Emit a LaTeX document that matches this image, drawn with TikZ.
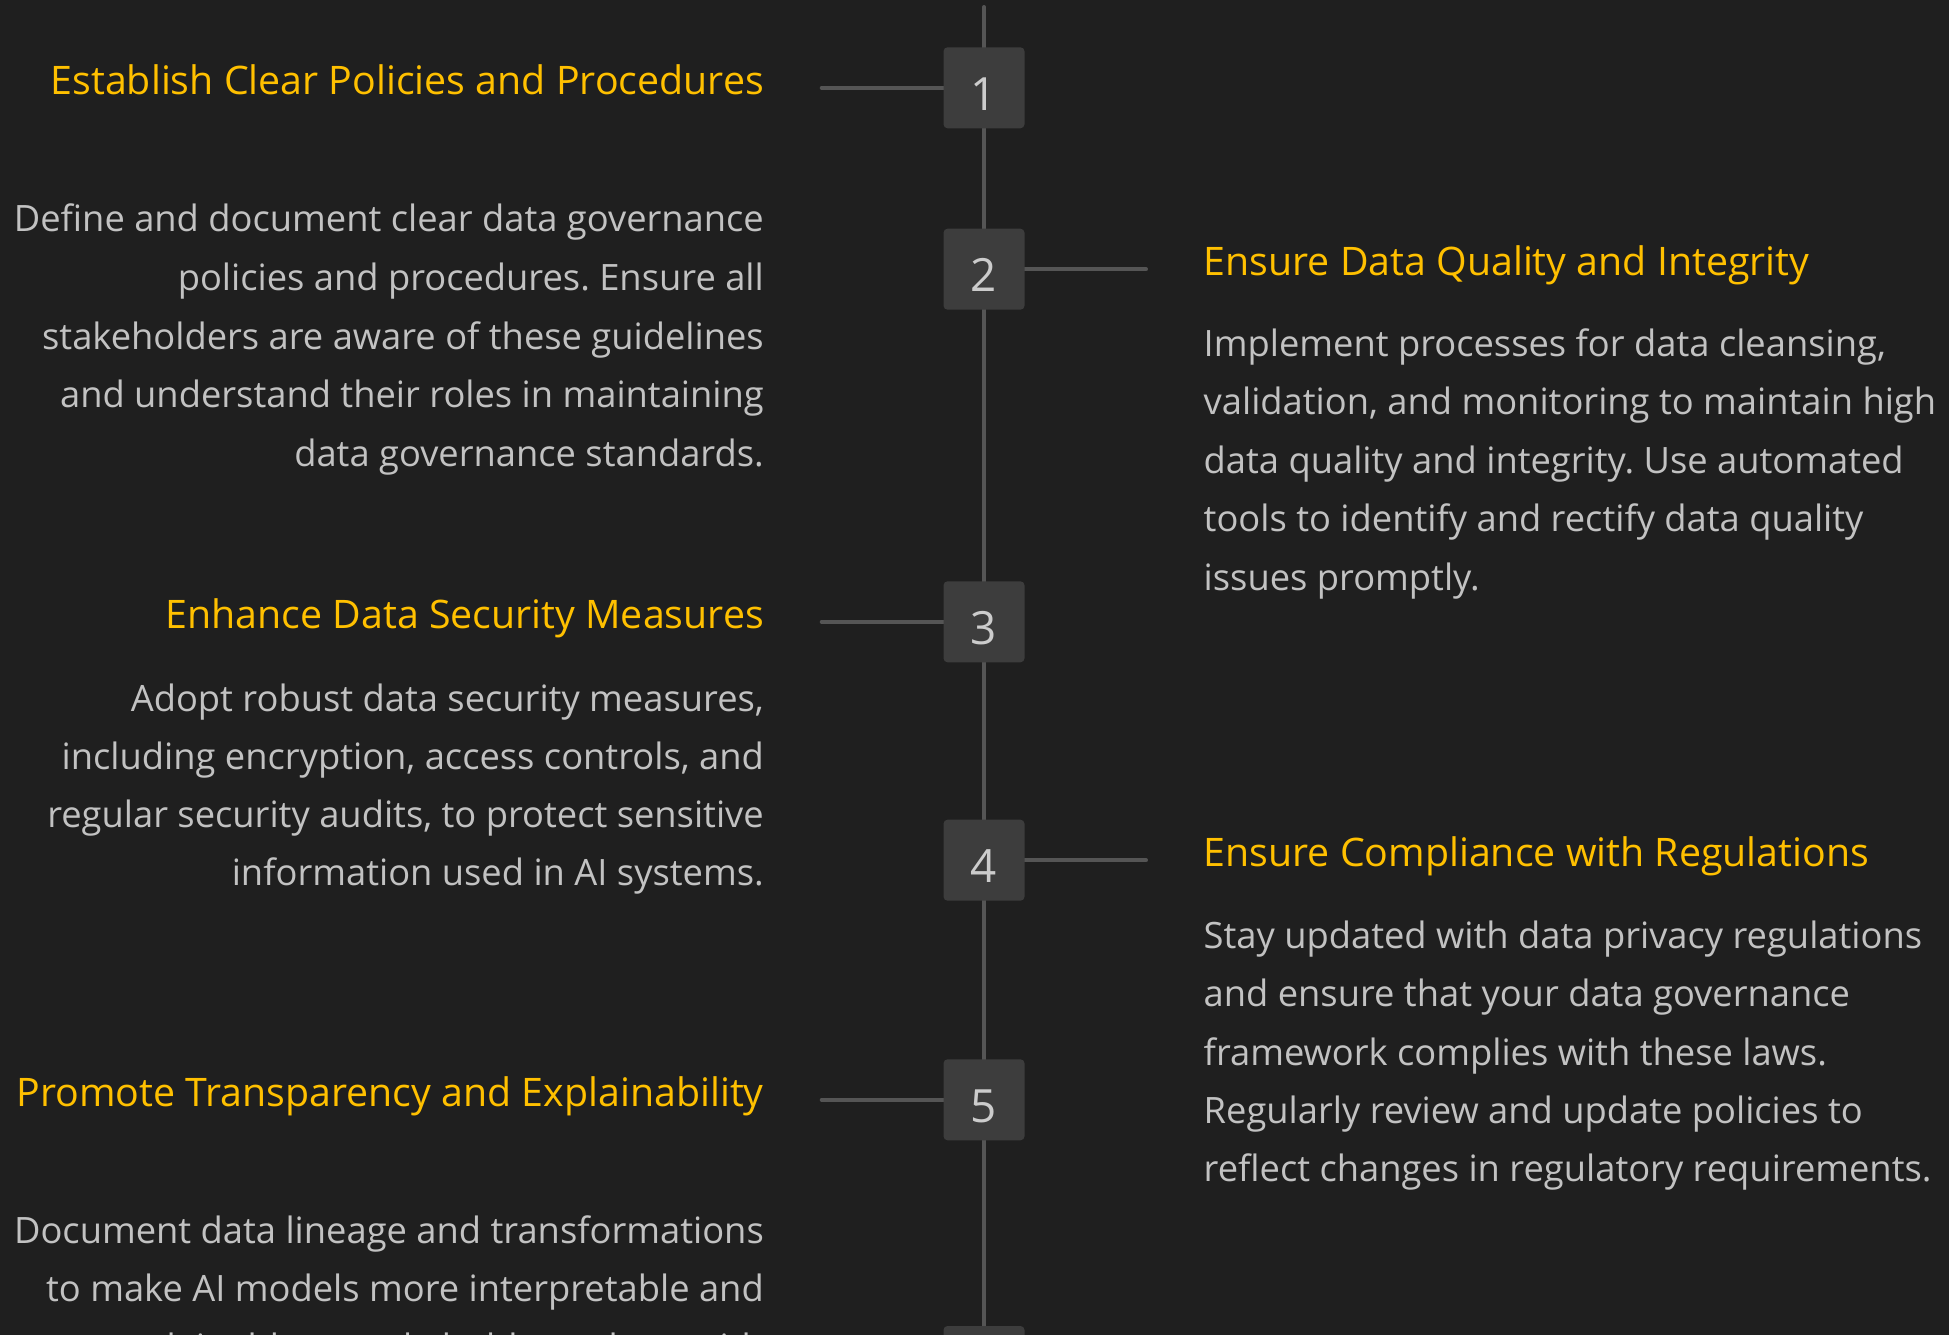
\documentclass[tikz,border=0pt]{standalone}
\usepackage{fontspec}
\setmainfont{Open Sans}
\frenchspacing
\usetikzlibrary{backgrounds}
\definecolor{bg}{HTML}{1F1F1F}
\definecolor{boxfill}{HTML}{3D3D3D}
\definecolor{linec}{HTML}{555555}
\definecolor{titlec}{HTML}{FFC000}
\definecolor{bodyc}{HTML}{C2C2C2}
\definecolor{numc}{HTML}{CCCCCC}
\begin{document}
\begin{tikzpicture}[x=1pt,y=-1pt,
  stepnum/.style={rectangle, rounded corners=4pt, fill=boxfill, minimum width=81pt, minimum height=81pt, inner sep=0pt, text=numc, font=\fontsize{45.8}{46}\selectfont, text height=44.7pt, text depth=0pt},
  conn/.style={draw=linec, line width=4pt, line cap=round},
  ttl/.style={text=titlec, font=\fontsize{39.3}{40}\selectfont\frenchspacing, inner sep=0pt},
  body/.style={text=bodyc, font=\fontsize{36.3}{40}\selectfont\frenchspacing, inner sep=0pt}]
\useasboundingbox (0,0) rectangle (1949,1335);
\clip (0,0) rectangle (1949,1335);
% step boxes
\node[stepnum] (b1) at (984,87.8) {1};
\node[stepnum] (b2) at (984,269.2) {2};
\node[stepnum] (b3) at (984,621.8) {3};
\node[stepnum] (b4) at (984,860.2) {4};
\node[stepnum] (b5) at (984,1099.8) {5};
\node[stepnum] (b6) at (984,1366.5) {};
\coordinate (top) at (984,7);
\coordinate (l1) at (821.7,87.8);
\coordinate (r2) at (1146,269.2);
\coordinate (l3) at (821.7,621.8);
\coordinate (r4) at (1146,860.2);
\coordinate (l5) at (821.7,1099.8);
\begin{scope}[on background layer]
\fill[bg] (0,0) rectangle (1949,1335);
\draw[conn] (top) -- (b1.center) -- (b2.center) -- (b3.center) -- (b4.center) -- (b5.center) -- (b6.center);
\draw[conn] (l1) -- (b1.center);
\draw[conn] (r2) -- (b2.center);
\draw[conn] (l3) -- (b3.center);
\draw[conn] (r4) -- (b4.center);
\draw[conn] (l5) -- (b5.center);
\end{scope}
% titles
\node[ttl, anchor=base east] (t1) at (764,94.3) {Establish Clear Policies and Procedures};
\node[ttl, anchor=base west] (t2) at (1203.5,275) {Ensure Data Quality and Integrity};
\node[ttl, anchor=base east] (t3) at (764,628.3) {Enhance Data Security Measures};
\node[ttl, anchor=base west] (t4) at (1203.5,866.7) {Ensure Compliance with Regulations};
\node[ttl, anchor=base east] (t5) at (764,1106.3) {Promote Transparency and Explainability};
% bodies
\foreach \t [count=\i from 0] in {{Define and document clear data governance},{policies and procedures. Ensure all},{stakeholders are aware of these guidelines},{and understand their roles in maintaining},{data governance standards.}}
  \node[body, anchor=base east] (d1-\i) at (764,231.7+58.7*\i) {\t};
\foreach \t [count=\i from 0] in {{Implement processes for data cleansing,},{validation, and monitoring to maintain high},{data quality and integrity. Use automated},{tools to identify and rectify data quality},{issues promptly.}}
  \node[body, anchor=base west] (d2-\i) at (1203.5,356+58.5*\i) {\t};
\foreach \t [count=\i from 0] in {{Adopt robust data security measures,},{including encryption, access controls, and},{regular security audits, to protect sensitive},{information used in AI systems.}}
  \node[body, anchor=base east] (d3-\i) at (764,711.7+57.8*\i) {\t};
\foreach \t [count=\i from 0] in {{Stay updated with data privacy regulations},{and ensure that your data governance},{framework complies with these laws.},{Regularly review and update policies to},{reflect changes in regulatory requirements.}}
  \node[body, anchor=base west] (d4-\i) at (1203.5,948.3+58.35*\i) {\t};
\foreach \t [count=\i from 0] in {{Document data lineage and transformations},{to make AI models more interpretable and},{explainable to stakeholders, along with}}
  \node[body, anchor=base east] (d5-\i) at (764,1243.3+58.4*\i) {\t};
\end{tikzpicture}
\end{document}
